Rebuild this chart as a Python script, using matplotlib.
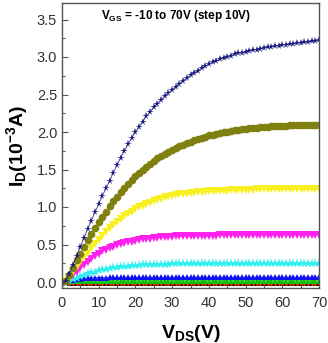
import numpy as np
import matplotlib
matplotlib.use('Agg')
import matplotlib.pyplot as plt

plt.rcParams['font.family'] = ['Liberation Sans', 'DejaVu Sans']
plt.rcParams['mathtext.fontset'] = 'custom'
plt.rcParams['mathtext.rm'] = 'Liberation Sans'
plt.rcParams['mathtext.bf'] = 'Liberation Sans:bold'

# drain voltage sweep (V)
vds = list(range(0, 71))

# drain current (1e-3 A), one list per gate voltage
id_m10 = [0.00, -0.01, -0.02, -0.02, -0.02, -0.02, -0.02, -0.02, -0.02, -0.02,
          -0.02, -0.02, -0.02, -0.02, -0.02, -0.02, -0.02, -0.02, -0.02, -0.02,
          -0.02, -0.02, -0.02, -0.02, -0.02, -0.02, -0.02, -0.02, -0.02, -0.02,
          -0.02, -0.02, -0.02, -0.02, -0.02, -0.02, -0.02, -0.02, -0.02, -0.02,
          -0.02, -0.02, -0.02, -0.02, -0.02, -0.02, -0.02, -0.02, -0.02, -0.02,
          -0.02, -0.02, -0.02, -0.02, -0.02, -0.02, -0.02, -0.02, -0.02, -0.02,
          -0.02, -0.02, -0.02, -0.02, -0.02, -0.02, -0.02, -0.02, -0.02, -0.02, -0.02]
id_0 = [0.00, -0.01, -0.02, -0.02, -0.02, -0.02, -0.02, -0.02, -0.02, -0.02,
        -0.02, -0.02, -0.02, -0.02, -0.02, -0.02, -0.02, -0.02, -0.02, -0.02,
        -0.02, -0.02, -0.02, -0.02, -0.02, -0.02, -0.02, -0.02, -0.02, -0.02,
        -0.02, -0.02, -0.02, -0.02, -0.02, -0.02, -0.02, -0.02, -0.02, -0.02,
        -0.02, -0.02, -0.02, -0.02, -0.02, -0.02, -0.02, -0.02, -0.02, -0.02,
        -0.02, -0.02, -0.02, -0.02, -0.02, -0.02, -0.02, -0.02, -0.02, -0.02,
        -0.02, -0.02, -0.02, -0.02, -0.02, -0.02, -0.02, -0.02, -0.02, -0.02, -0.02]
id_10 = [0.00, 0.005, 0.01, 0.015, 0.02, 0.02, 0.02, 0.02, 0.02, 0.02,
         0.02, 0.02, 0.02, 0.02, 0.02, 0.02, 0.02, 0.02, 0.02, 0.02,
         0.02, 0.02, 0.02, 0.02, 0.02, 0.02, 0.02, 0.02, 0.02, 0.02,
         0.02, 0.02, 0.02, 0.02, 0.02, 0.02, 0.02, 0.02, 0.02, 0.02,
         0.02, 0.02, 0.02, 0.02, 0.02, 0.02, 0.02, 0.02, 0.02, 0.02,
         0.02, 0.02, 0.02, 0.02, 0.02, 0.02, 0.02, 0.02, 0.02, 0.02,
         0.02, 0.02, 0.02, 0.02, 0.02, 0.02, 0.02, 0.02, 0.02, 0.02, 0.02]
id_20 = [0.00, 0.005, 0.015, 0.025, 0.035, 0.043, 0.049, 0.053, 0.056, 0.058,
         0.059, 0.060, 0.060, 0.061, 0.061, 0.061, 0.062, 0.062, 0.062, 0.062,
         0.062, 0.063, 0.063, 0.063, 0.063, 0.063, 0.063, 0.063, 0.063, 0.063,
         0.064, 0.064, 0.064, 0.064, 0.064, 0.064, 0.064, 0.064, 0.064, 0.064,
         0.064, 0.064, 0.065, 0.065, 0.065, 0.065, 0.065, 0.065, 0.065, 0.065,
         0.065, 0.065, 0.065, 0.065, 0.065, 0.065, 0.065, 0.065, 0.065, 0.065,
         0.065, 0.065, 0.065, 0.065, 0.065, 0.065, 0.065, 0.065, 0.065, 0.065, 0.065]
id_30 = [0.00, 0.00, 0.02, 0.04, 0.06, 0.08, 0.10, 0.12, 0.13, 0.14,
         0.16, 0.17, 0.18, 0.19, 0.195, 0.20, 0.21, 0.215, 0.22, 0.225,
         0.23, 0.232, 0.235, 0.237, 0.24, 0.24, 0.242, 0.244, 0.245, 0.246,
         0.247, 0.248, 0.249, 0.25, 0.25, 0.25, 0.25, 0.251, 0.252, 0.253,
         0.254, 0.255, 0.255, 0.255, 0.256, 0.256, 0.256, 0.257, 0.257, 0.257,
         0.258, 0.258, 0.258, 0.258, 0.259, 0.259, 0.259, 0.259, 0.259, 0.26,
         0.26, 0.26, 0.26, 0.26, 0.26, 0.26, 0.26, 0.26, 0.26, 0.26, 0.26]
id_40 = [0.00, 0.01, 0.05, 0.09, 0.14, 0.19, 0.23, 0.27, 0.31, 0.35,
         0.38, 0.41, 0.43, 0.45, 0.47, 0.49, 0.51, 0.52, 0.53, 0.54,
         0.55, 0.56, 0.57, 0.575, 0.58, 0.585, 0.59, 0.595, 0.60, 0.60,
         0.605, 0.61, 0.61, 0.61, 0.615, 0.615, 0.615, 0.62, 0.62, 0.62,
         0.62, 0.62, 0.62, 0.625, 0.625, 0.625, 0.625, 0.625, 0.625, 0.625,
         0.63, 0.63, 0.63, 0.63, 0.63, 0.63, 0.63, 0.63, 0.63, 0.63,
         0.63, 0.63, 0.63, 0.63, 0.63, 0.63, 0.63, 0.63, 0.63, 0.63, 0.63]
id_50 = [0.00, 0.01, 0.06, 0.13, 0.20, 0.27, 0.33, 0.39, 0.45, 0.51,
         0.56, 0.62, 0.67, 0.72, 0.76, 0.80, 0.84, 0.88, 0.91, 0.94,
         0.97, 1.00, 1.02, 1.04, 1.06, 1.08, 1.10, 1.11, 1.13, 1.14,
         1.15, 1.16, 1.17, 1.175, 1.18, 1.185, 1.19, 1.195, 1.20, 1.205,
         1.21, 1.21, 1.215, 1.22, 1.22, 1.22, 1.225, 1.225, 1.23, 1.23,
         1.23, 1.23, 1.23, 1.235, 1.235, 1.235, 1.235, 1.24, 1.24, 1.24,
         1.24, 1.24, 1.24, 1.24, 1.24, 1.24, 1.24, 1.24, 1.24, 1.24, 1.24]
id_60 = [0.00, 0.01, 0.09, 0.19, 0.29, 0.38, 0.47, 0.56, 0.64, 0.72,
         0.80, 0.87, 0.94, 1.01, 1.08, 1.14, 1.20, 1.26, 1.31, 1.36,
         1.41, 1.45, 1.50, 1.54, 1.58, 1.61, 1.65, 1.68, 1.71, 1.74,
         1.76, 1.79, 1.81, 1.83, 1.85, 1.87, 1.89, 1.91, 1.925, 1.94,
         1.955, 1.965, 1.975, 1.985, 1.995, 2.005, 2.015, 2.025, 2.03, 2.04,
         2.045, 2.05, 2.055, 2.06, 2.065, 2.07, 2.07, 2.075, 2.08, 2.08,
         2.085, 2.085, 2.09, 2.09, 2.09, 2.095, 2.095, 2.10, 2.10, 2.10, 2.10]
id_70 = [0.00, 0.01, 0.11, 0.23, 0.35, 0.47, 0.59, 0.71, 0.82, 0.93,
         1.04, 1.15, 1.25, 1.35, 1.46, 1.56, 1.66, 1.75, 1.84, 1.92,
         2.00, 2.07, 2.14, 2.21, 2.27, 2.33, 2.38, 2.43, 2.48, 2.52,
         2.56, 2.605, 2.645, 2.685, 2.72, 2.755, 2.79, 2.82, 2.85, 2.88,
         2.905, 2.93, 2.95, 2.97, 2.99, 3.005, 3.02, 3.035, 3.05, 3.06,
         3.07, 3.08, 3.09, 3.10, 3.11, 3.12, 3.13, 3.14, 3.145, 3.15,
         3.16, 3.165, 3.17, 3.18, 3.185, 3.19, 3.195, 3.20, 3.21, 3.215, 3.22]

curves = [id_m10, id_0, id_10, id_20, id_30, id_40, id_50, id_60, id_70]
colors = ['#000000', '#ff3000', '#10c010', '#1010f0', '#30f0f0',
          '#ff20f0', '#f8f020', '#808010', '#1a1a80']
markers = ['s', 'o', '^', '^', '*', 'v', 'v', 'o', '*']
sizes = [2.5, 2.0, 4.0, 5.0, 6.5, 6.0, 6.0, 5.5, 5.5]

fig = plt.figure(figsize=(3.28, 3.43), dpi=100)
ax = fig.add_axes([62/328, 1 - 288/343, 257/328, 285/343])

for y, c, m, s in zip(curves, colors, markers, sizes):
  ax.plot(vds, y, '-', color=c, lw=0.5, marker=m, markersize=s,
          markeredgewidth=0, clip_on=True)

ax.set_xlim(0, 70)
ax.set_ylim(-0.08, 3.72)
ax.set_xticks(np.arange(0, 71, 10))
ax.set_xticks(np.arange(5, 70, 10), minor=True)
ax.set_yticks(np.arange(0, 3.6, 0.5))
ax.set_yticks(np.arange(0.25, 3.6, 0.5), minor=True)
ax.set_yticklabels(['%.1f' % t for t in np.arange(0, 3.6, 0.5)])

for s in ax.spines.values():
  s.set_color('#555555')
  s.set_linewidth(1.0)
ax.tick_params(which='both', direction='in', colors='#555555', labelcolor='#333333',
               labelsize=10.5)
ax.tick_params(which='major', length=4, width=0.8)
ax.tick_params(which='minor', length=2.5, width=0.8)
ax.tick_params(axis='x', pad=6)

ax.set_xlabel(r'$\mathbf{V_{DS}}$(V)', fontsize=14, fontweight='bold', labelpad=9)
ax.set_ylabel(r'$\mathbf{I_{D}}$(10$^{\mathbf{-3}}$A)', fontsize=14, fontweight='bold', labelpad=4)

ax.text(0.15, 0.955, r'$\mathbf{V_{GS}}$ = -10 to 70V (step 10V)', transform=ax.transAxes,
        fontsize=8.5, fontweight='bold', va='center', ha='left')

fig.savefig('out.png', dpi=100)
